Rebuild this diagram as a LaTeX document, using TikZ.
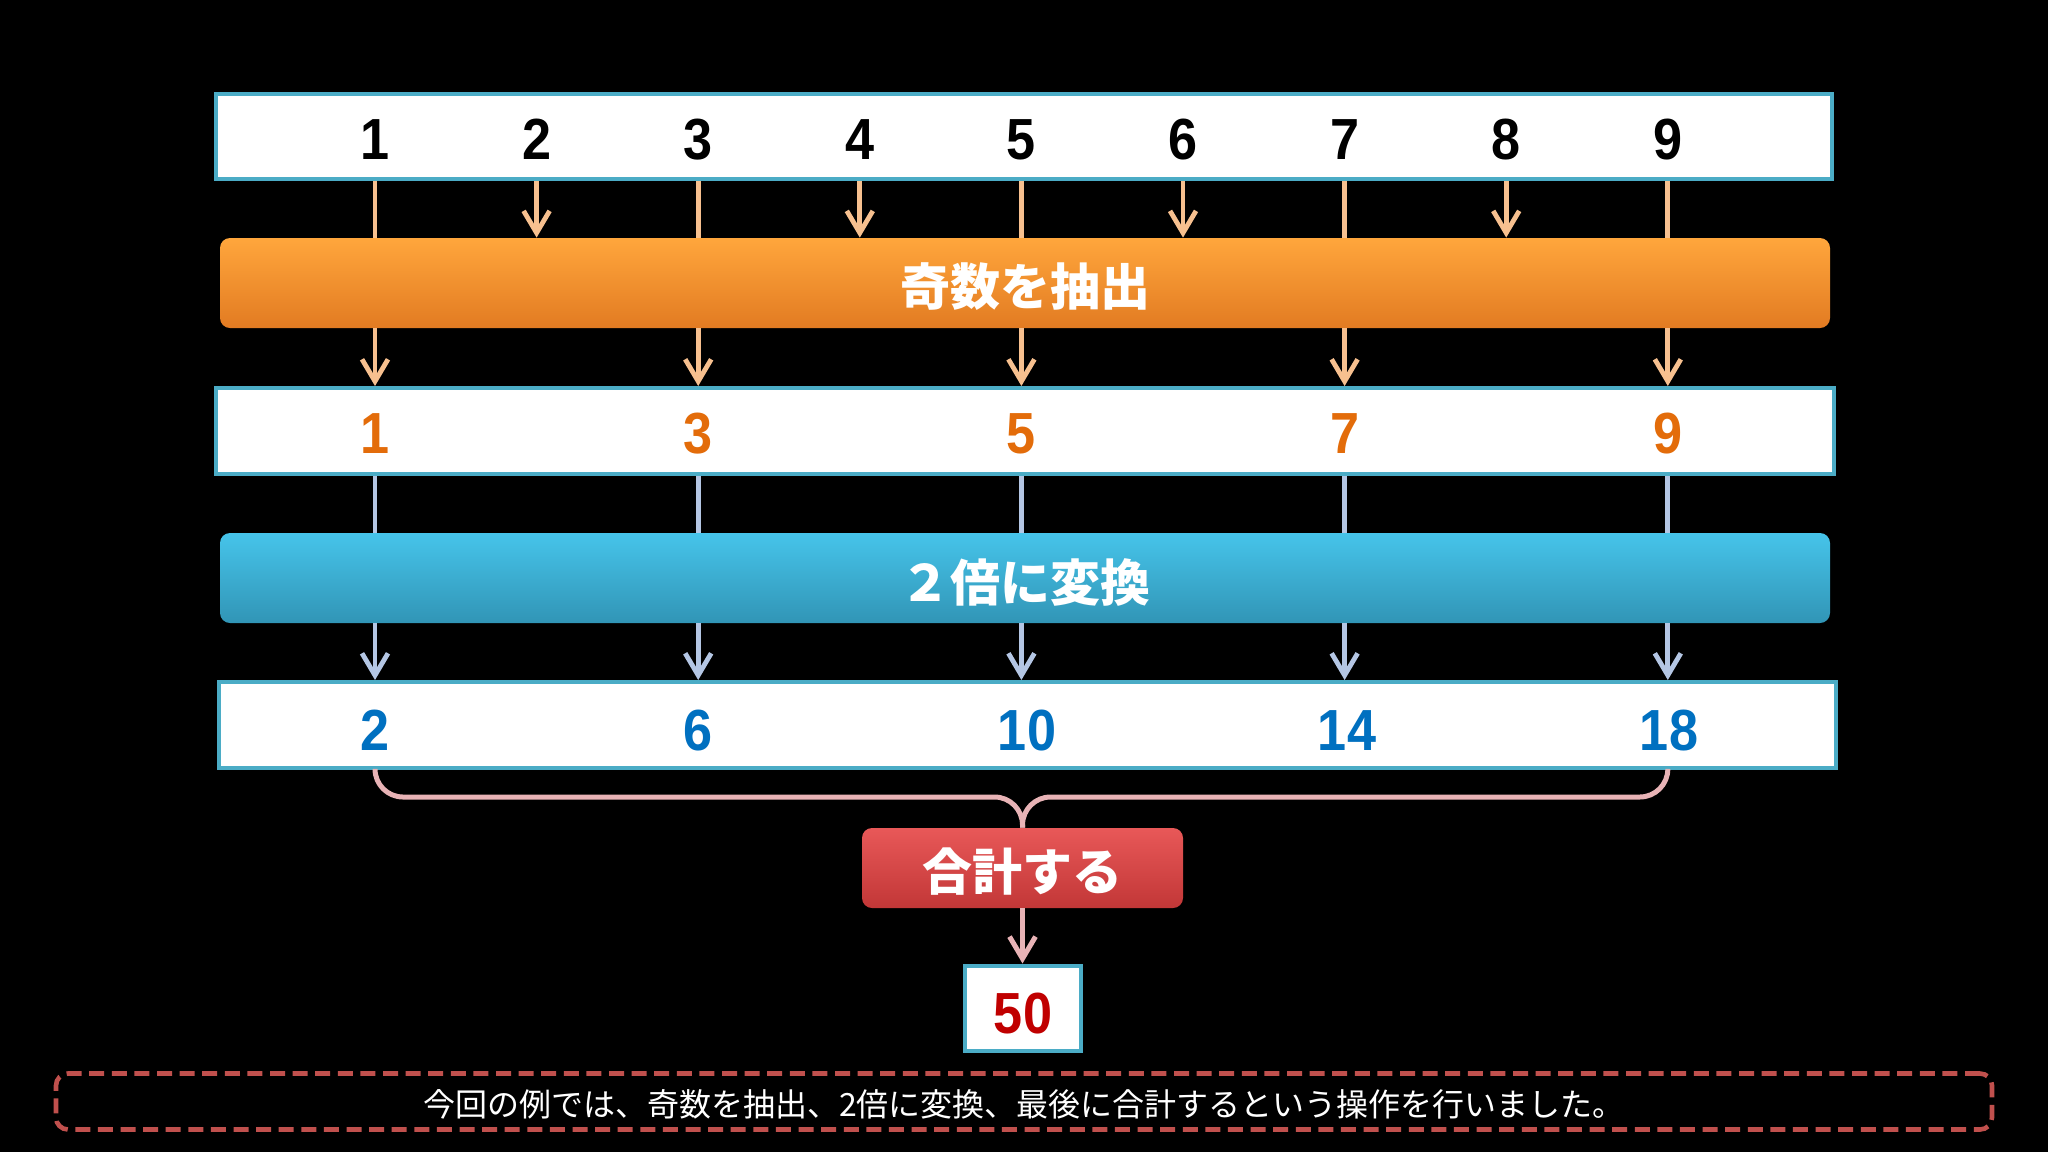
\documentclass[tikz,border=0pt]{standalone}
\usepackage{fontspec}
\setmainfont{Liberation Sans}
\newfontfamily\numfont[FakeStretch=0.9]{Liberation Sans}
\newfontfamily\jpfont{Noto Sans CJK JP}
\usetikzlibrary{arrows.meta}
\definecolor{teal}{HTML}{4BACC6}
\definecolor{orT}{HTML}{FFA63C}
\definecolor{orM}{HTML}{FA9430}
\definecolor{orB}{HTML}{E27B22}
\definecolor{blT}{HTML}{46C4EA}
\definecolor{blM}{HTML}{3BB3D9}
\definecolor{blB}{HTML}{3195B6}
\definecolor{rdT}{HTML}{E85858}
\definecolor{rdM}{HTML}{D94545}
\definecolor{rdB}{HTML}{C23737}
\definecolor{peach}{HTML}{F7C08F}
\definecolor{bluegray}{HTML}{B4C6E4}
\definecolor{pinkline}{HTML}{E8B3B6}
\definecolor{orangedigit}{HTML}{E36C0A}
\definecolor{bluedigit}{HTML}{0070C0}
\definecolor{darkred}{HTML}{C00000}
\definecolor{dashred}{HTML}{C0504D}
\newcommand{\dropby}[2]{\raisebox{-#1}[\height][\depth]{#2}}
\tikzset{
  whitebox/.style={draw=teal, line width=2pt, fill=white, minimum height=42.5pt, inner sep=0pt},
  bar/.style={rounded corners=5pt, minimum height=45pt, minimum width=805pt, inner sep=0pt,
    text=white, font=\jpfont\bfseries\fontsize{25pt}{30pt}\selectfont},
  num/.style={anchor=base, inner sep=0pt, font=\numfont\bfseries\fontsize{29pt}{34pt}\selectfont},
  tip/.style={-{Straight Barb[length=11pt,width=13pt]}},
  orline/.style={draw=peach, line width=2.4pt},
  blline/.style={draw=bluegray, line width=2.4pt},
  pkline/.style={draw=pinkline, line width=2.5pt},
}
\begin{document}
\begin{tikzpicture}[x=0.5pt,y=-0.5pt]
\fill[black] (0,0) rectangle (2048,1152);
\useasboundingbox (0,0) rectangle (2048,1152);

% boxes
\node[whitebox, minimum width=808pt] (box1) at (1024,136.5) {};
\node[bar, top color=orT, middle color=orM, bottom color=orB] (bar1) at (1025,283) {\dropby{2pt}{奇数を抽出}};
\node[whitebox, minimum width=809pt, minimum height=43pt] (box2) at (1025,431) {};
\node[bar, top color=blT, middle color=blM, bottom color=blB] (bar2) at (1025,578) {\dropby{2pt}{２倍に変換}};
\node[whitebox, minimum width=808.5pt, minimum height=43pt] (box3) at (1027.5,725) {};
\node[bar, minimum width=160.5pt, minimum height=40pt, top color=rdT, middle color=rdM, bottom color=rdB] (bar3) at (1022.5,868) {\dropby{2pt}{合計する}};
\node[whitebox, minimum width=58pt, minimum height=42.5pt] (res) at (1022.5,1008) {};
\node[anchor=base, inner sep=0pt, text=darkred, font=\numfont\bfseries\fontsize{29pt}{34pt}\selectfont] (fifty) at (1023,1033) {50};

% row 1 numbers
\foreach \i in {1,...,9} {
  \node[num] (a\i) at ({375+161.6*(\i-1)},159) {\i};
}
% row 2 numbers
\foreach \i/\k in {1/1,3/2,5/3,7/4,9/5} {
  \node[num, text=orangedigit] (b\k) at ({375+161.6*(\i-1)},453) {\i};
}
% row 3 numbers
\node[num, text=bluedigit] (c1) at (375,750) {2};
\node[num, text=bluedigit] (c2) at (698,750) {6};
\node[num, text=bluedigit] (c3) at (1027,750) {10};
\node[num, text=bluedigit] (c4) at (1347,750) {14};
\node[num, text=bluedigit] (c5) at (1669,750) {18};

% connectors top box -> orange bar
\foreach \i in {1,3,5,7,9} {
  \draw[orline] (a\i |- box1.south) -- (a\i |- bar1.north);
}
\foreach \i in {2,4,6,8} {
  \draw[orline, tip] (a\i |- box1.south) -- (a\i |- bar1.north);
}
% orange bar -> box2
\foreach \k in {1,...,5} {
  \draw[orline, tip] (b\k |- bar1.south) -- (b\k |- box2.north);
}
% box2 -> blue bar
\foreach \k in {1,...,5} {
  \draw[blline] (b\k |- box2.south) -- (b\k |- bar2.north);
}
% blue bar -> box3
\foreach \k in {1,...,5} {
  \draw[blline, tip] (b\k |- bar2.south) -- (b\k |- box3.north);
}
% brace
\coordinate (mid) at (bar3.north |- 0,797);
\draw[pkline, rounded corners=14pt] (c1.center |- box3.south) |- (mid) -- (bar3.north);
\draw[pkline, rounded corners=14pt] (b5 |- box3.south) |- (mid) -- (bar3.north);
% sum -> result
\draw[pkline, tip] (bar3.south) -- (res.north);

% note
\node[draw=dashred, line width=2.3pt, dash pattern=on 7.5pt off 3.8pt, rounded corners=6pt,
  minimum width=968pt, minimum height=28pt, inner sep=0pt, text=white,
  font=\jpfont\fontsize{16pt}{19pt}\selectfont] (note) at (1024,1101.5)
  {\dropby{1.5pt}{今回の例では、奇数を抽出、2倍に変換、最後に合計するという操作を行いました。}};
\end{tikzpicture}
\end{document}
